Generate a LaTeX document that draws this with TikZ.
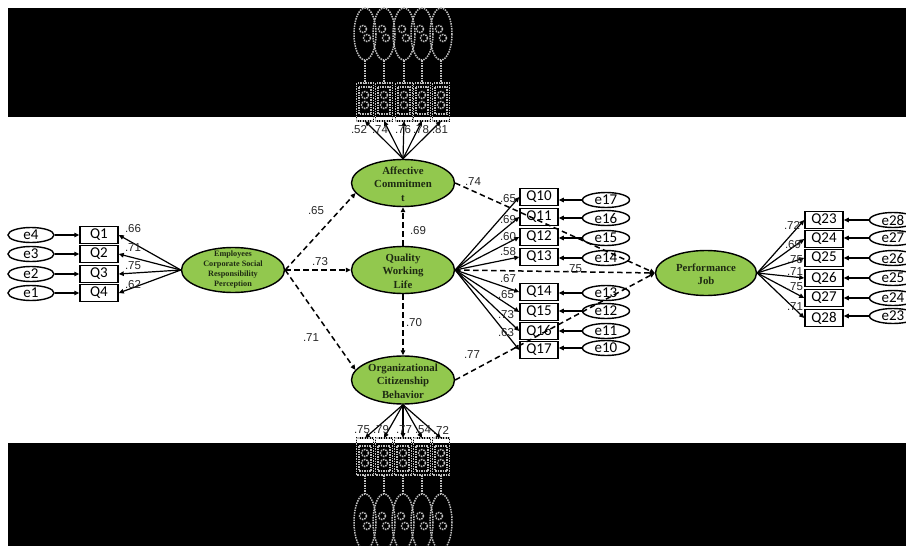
\documentclass[tikz,border=0pt]{standalone}
\usepackage{fontspec}
\setmainfont{Liberation Serif}
\newfontfamily\qfont{Carlito}
\newfontfamily\nfont{Liberation Sans}
\usetikzlibrary{shapes.geometric,arrows.meta}
\definecolor{latgreen}{HTML}{92C84E}
\definecolor{lattext}{HTML}{1E2A12}
\begin{document}
\begin{tikzpicture}[x=1pt,y=-1pt,
  lat/.style={ellipse, draw, line width=1.4pt, fill=latgreen, inner sep=0pt, minimum width=103pt, minimum height=47pt},
  lattxt/.style={align=center, text=lattext, inner sep=0pt, font=\bfseries\fontsize{10.8}{13.5}\selectfont},
  obs/.style={rectangle, draw, line width=1.5pt, minimum width=38pt, minimum height=17pt, inner sep=0pt, font=\qfont\fontsize{15}{15}\selectfont},
  err/.style={ellipse, draw, line width=1.4pt, minimum width=47pt, minimum height=15pt, inner sep=0pt, font=\qfont\fontsize{15}{15}\selectfont},
  ld/.style={font=\nfont\fontsize{11.5}{11.5}\selectfont, text=black!85, inner sep=0pt},
  arr/.style={-{Triangle[length=5pt,width=4.5pt]}, line width=1.2pt},
  dsh/.style={arr, dash pattern=on 5.5pt off 3.5pt, line width=1.5pt},
  ghost/.style={draw=gray!50, densely dotted, line width=1.5pt},
  solidbox/.style={draw=black, line width=1.2pt}
]
\useasboundingbox (0,0) rectangle (906,546);
\clip (0,0) rectangle (906,546);

% ---- top ghost indicators ----
\foreach \x [count=\k] in {365,384,404,422,441} {
  \coordinate (tb\k) at (\x,121);
  \draw[solidbox] (\x-8.5,83) rectangle (\x+8.5,121);
}
\fill[black] (8,8) rectangle (906,117);
\foreach \x in {365,384,404,422,441} {
  \draw[ghost] (\x-8.5,83) rectangle (\x+8.5,121);
  \draw[ghost] (\x-6,87) rectangle (\x+6,114);
  \draw[ghost] (\x,34) ellipse [x radius=11, y radius=26];
  \draw[ghost] (\x-2,29) circle (3.5); \draw[ghost] (\x+2,38) circle (3.5);
  \draw[ghost] (\x,95) circle (3.5); \draw[ghost] (\x,105) circle (3.5);
  \draw[ghost] (\x,60) -- (\x,83);
}

% ---- bottom ghost indicators ----
\foreach \x [count=\k] in {365,384,403,422,441} {
  \coordinate (bb\k) at (\x,438);
  \draw[solidbox] (\x-8.5,438) rectangle (\x+8.5,475);
}
\fill[black] (8,443) rectangle (906,546);
\foreach \x in {365,384,403,422,441} {
  \draw[ghost] (\x-8.5,438) rectangle (\x+8.5,475);
  \draw[ghost] (\x-6,446) rectangle (\x+6,471);
  \draw[ghost] (\x,522) ellipse [x radius=11, y radius=28];
  \draw[ghost] (\x-2,516) circle (3.5); \draw[ghost] (\x+2,526) circle (3.5);
  \draw[ghost] (\x,453) circle (3.5); \draw[ghost] (\x,463) circle (3.5);
  \draw[ghost] (\x,475) -- (\x,494);
}

% ---- latent variables ----
\node[lat, minimum height=45pt] (ECSR) at (233,270) {};
\node[lattxt, font=\bfseries\fontsize{8.2}{10}\selectfont] (ECSRt) at (ECSR) {Employees\\Corporate Social\\Responsibility\\Perception};
\node[lat] (AC) at (403,183) {};
\node[lattxt] (ACt) at (403,184) {Affective\\Commitmen\\t};
\node[lat] (QWL) at (403,270) {};
\node[lattxt] (QWLt) at (403,271) {Quality\\Working\\Life};
\node[lat, minimum height=48pt] (OCB) at (403,380) {};
\node[lattxt] (OCBt) at (403,381) {Organizational\\Citizenship\\Behavior};
\node[lat, minimum width=101pt, minimum height=45pt] (PJ) at (706,273) {};
\node[lattxt] (PJt) at (706,274) {Performance\\Job};

% ---- top / bottom loadings ----
\foreach \k in {1,...,5} {
  \draw[arr] (AC.north) -- (tb\k);
  \draw[arr] (OCB.south) -- (bb\k);
}
\foreach \x/\l in {359/.52,380/.74,403/.76,421/.78,440/.81}
  \node[ld] at (\x,130) {\l};
\foreach \x/\l in {362/.75,381/.79,404/.77,423/.54,441/.72}
  \node[ld] at (\x,430) {\l};

% ---- left indicators ----
\foreach \i/\y/\e/\l/\ly in {1/235/4/.66/229, 2/254/3/.71/248, 3/274/2/.75/266, 4/293/1/.62/285} {
  \node[obs] (Q\i) at (99,\y) {Q\i};
  \node[err, minimum width=46pt] (e\e) at (31,\y) {e\e};
  \draw[arr] (e\e) -- (Q\i);
  \draw[arr] (ECSR.west) -- (Q\i.east);
  \node[ld] at (133,\ly) {\l};
}

% ---- middle indicators ----
\foreach \i/\y/\e/\ey/\l/\lx/\ly in {10/197/17/200/.65/508/199, 11/217/16/218/.69/508/220, 12/237/15/238/.60/508/237, 13/257/14/258/.58/508/252, 14/292/13/293/.67/508/279, 15/312/12/311/.65/506/295, 16/331/11/331/.73/506/315, 17/350/10/348/.63/506/333} {
  \node[obs] (Q\i) at (539,\y) {Q\i};
  \node[err] (e\e) at (606,\ey) {e\e};
  \draw[arr] (e\e.west) -- (e\e.west -| Q\i.east);
  \draw[arr] (QWL.east) -- (Q\i.west);
  \node[ld] at (\lx,\ly) {\l};
}

% ---- right indicators ----
\foreach \i/\y/\e/\ey/\l/\lx/\ly in {23/220/28/220/.72/792/225, 24/239/27/238/.69/793/245, 25/258/26/258/.75/795/260, 26/278/25/278/.71/795/272, 27/298/24/298/.75/795/287, 28/318/23/316/.71/795/307} {
  \node[obs] (Q\i) at (824,\y) {Q\i};
  \node[err] (e\e) at (893,\ey) {e\e};
  \draw[arr] (e\e.west) -- (e\e.west -| Q\i.east);
  \draw[arr] (PJ.east) -- (Q\i.west);
  \node[ld] at (\lx,\ly) {\l};
}

% ---- structural paths ----
\draw[dsh] (ECSR.east) -- (AC.192);
\draw[dsh] (ECSR.east) -- (QWL.west);
\draw[dsh] (ECSR.east) -- (OCB.168);
\draw[dsh] (QWL.north) -- (AC.south);
\draw[dsh] (QWL.south) -- (OCB.north);
\draw[dsh] (AC.east) -- (PJ.west);
\draw[dsh] (QWL.east) -- (PJ.west);
\draw[dsh] (OCB.east) -- (PJ.west);
\node[ld] at (316,211) {.65};
\node[ld] at (320,262) {.73};
\node[ld] at (311,338) {.71};
\node[ld] at (418,231) {.69};
\node[ld] at (414,323) {.70};
\node[ld] at (473,182) {.74};
\node[ld] at (574,269) {.75};
\node[ld] at (472,355) {.77};
\end{tikzpicture}
\end{document}
